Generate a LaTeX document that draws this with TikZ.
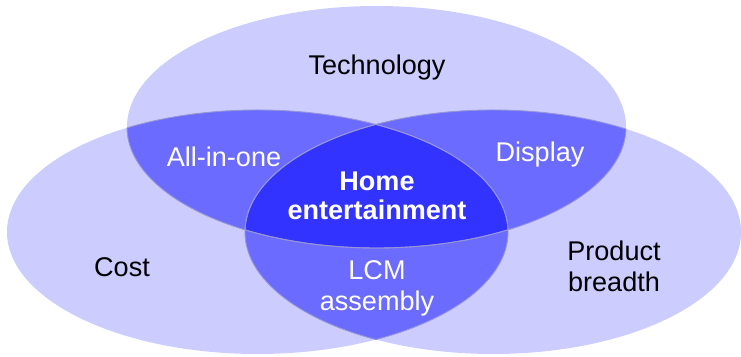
\documentclass[tikz,border=0pt]{standalone}
\usepackage{fontspec}
\setmainfont{Liberation Sans}
\definecolor{white}{RGB}{255,255,255}
\definecolor{black}{RGB}{0,0,0}
\definecolor{pale_blue}{RGB}{204,204,255}
\definecolor{mid_blue}{RGB}{107,107,255}
\definecolor{deep_blue}{RGB}{51,51,255}
\definecolor{edge_blue}{RGB}{150,150,215}

\def\tech{(376.5,127) ellipse [x radius=249.5, y radius=121]}
\def\cost{(257.5,232) ellipse [x radius=250.5, y radius=122]}
\def\breadth{(493,232) ellipse [x radius=248, y radius=122]}

\begin{document}
\begin{tikzpicture}[x=0.02cm,y=-0.02cm,font=\fontsize{15.4}{17.5}\selectfont]
	\useasboundingbox (0,0) rectangle (741,357);
	\fill[pale_blue] \tech;
	\fill[pale_blue] \cost;
	\fill[pale_blue] \breadth;
	
	% pairwise overlaps
	\begin{scope}
		\clip \tech;
		\fill[mid_blue] \cost;
		\fill[mid_blue] \breadth;
	\end{scope}
	\begin{scope}
		\clip \cost;
		\fill[mid_blue] \breadth;
	\end{scope}
	
	% centre
	\begin{scope}
		\clip \tech;
		\clip \cost;
		\fill[deep_blue] \breadth;
	\end{scope}
	
	% lens edges
	\begin{scope}
		\clip \tech;
		\draw[edge_blue,line width=0.5pt] \cost;
		\draw[edge_blue,line width=0.5pt] \breadth;
	\end{scope}
	\begin{scope}
		\clip \cost;
		\draw[edge_blue,line width=0.5pt] \tech;
		\draw[edge_blue,line width=0.5pt] \breadth;
	\end{scope}
	\begin{scope}
		\clip \breadth;
		\draw[edge_blue,line width=0.5pt] \tech;
		\draw[edge_blue,line width=0.5pt] \cost;
	\end{scope}
	
	\node[text=black] (technology) at (377,68) {Technology};
	\node[text=black] (costlabel) at (122,267) {Cost};
	\node[text=black,align=center] (product) at (614,266) {Product\\breadth};
	\node[text=white] (allinone) at (224,157) {All-in-one};
	\node[text=white] (display) at (540,155) {Display};
	\node[text=white,align=center] (lcm) at (377,288) {LCM\\assembly};
	\node[text=white,align=center,font=\fontsize{15.4}{16.5}\selectfont\bfseries] (home) at (377,196) {Home\\entertainment};
\end{tikzpicture}
\end{document}
